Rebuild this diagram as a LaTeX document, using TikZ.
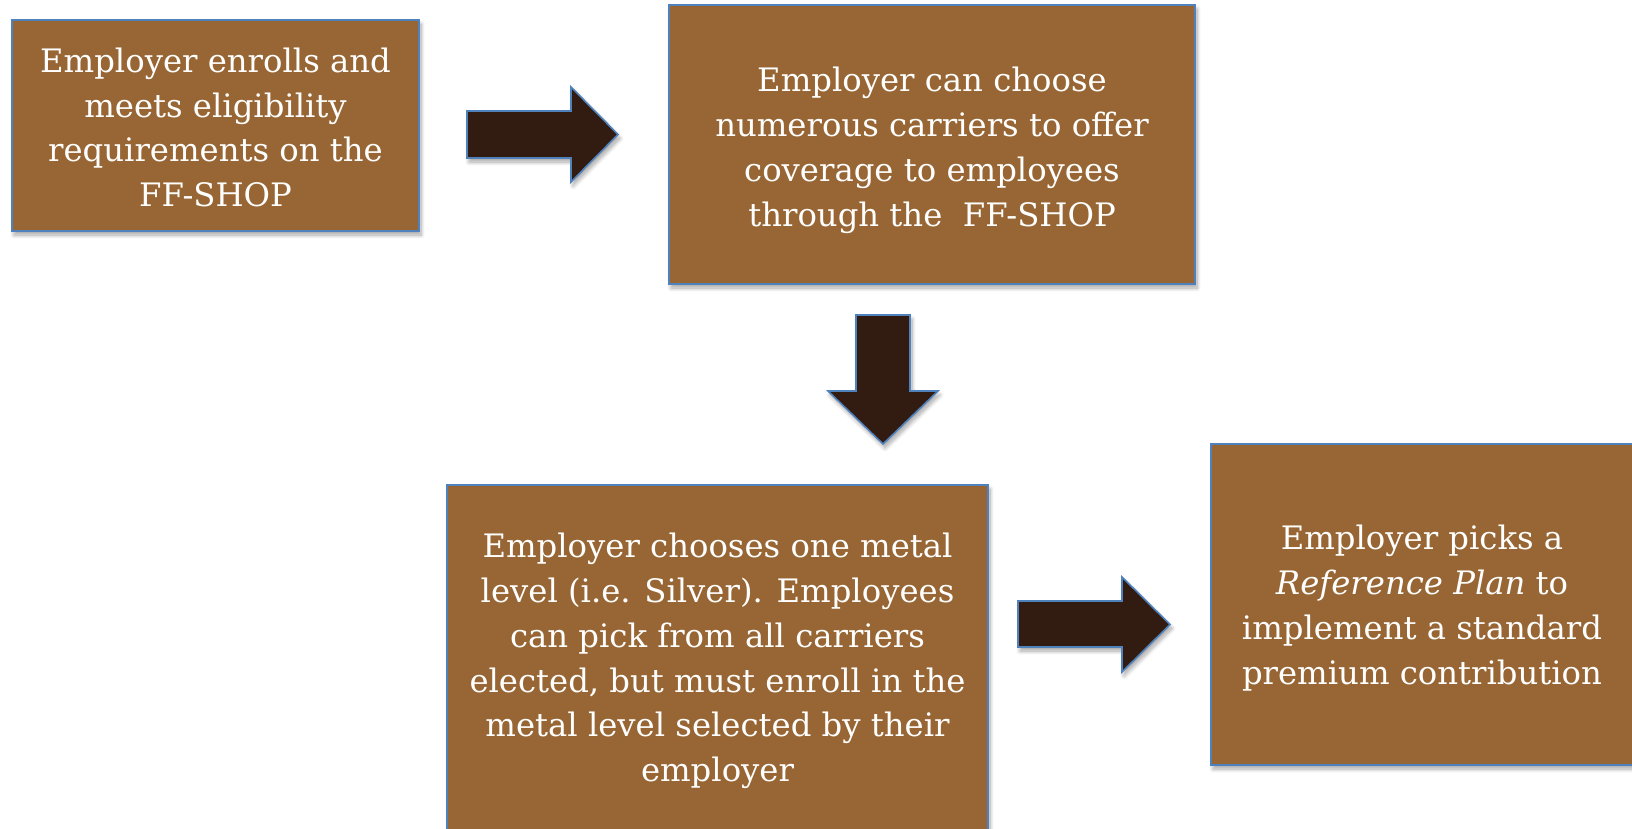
\documentclass[tikz,border=0pt]{standalone}
\usepackage{fontspec}
\setmainfont{DejaVu Serif}
\usetikzlibrary{shadows.blur}
\definecolor{boxbrown}{RGB}{152,102,52}
\definecolor{edgeblue}{RGB}{79,129,189}
\definecolor{arrowdark}{RGB}{50,28,18}
\tikzset{
  softshadow/.style={blur shadow={shadow xshift=2pt, shadow yshift=-4pt,
    shadow blur radius=4pt, shadow blur steps=8, shadow opacity=35}},
  stepbox/.style={draw=edgeblue, line width=1.6pt, fill=boxbrown, softshadow},
  boxtext/.style={text=white, align=center, font=\fontsize{32.3}{44.8}\selectfont},
  blockarrow/.style={draw=edgeblue, line width=1.6pt, fill=arrowdark, line join=miter, softshadow}
}
\begin{document}
\begin{tikzpicture}[x=1pt,y=-1pt]
\useasboundingbox (0,0) rectangle (1632,829);
\begin{scope}
\clip (0,0) rectangle (1632,829);
% boxes
\draw[stepbox] (12,20) rectangle (419,231);
\coordinate (b1) at (215.5,127.5);
\draw[stepbox] (669,5) rectangle (1195,284);
\coordinate (b2) at (932,150.5);
\draw[stepbox] (447,485) rectangle (988,834);
\coordinate (b3) at (717.5,661);
\draw[stepbox] (1211,444) rectangle (1640,765);
\coordinate (b4) at (1422,608);

\node[boxtext] (t1) at (b1) {Employer enrolls and\\meets eligibility\\requirements on the\\FF-SHOP};
\node[boxtext] (t2) at (b2) {Employer can choose\\numerous carriers to offer\\coverage to employees\\through the\ \ FF-SHOP};
\node[boxtext] (t3) at (b3) {Employer chooses one metal\\level (i.e. Silver). Employees\\can pick from all carriers\\elected, but must enroll in the\\metal level selected by their\\employer};
\node[boxtext] (t4) at (b4) {Employer picks a\\\textit{Reference Plan} to\\implement a standard\\premium contribution};

% block arrows
\draw[blockarrow] (467,111) -- (571,111) -- (571,87) -- (618,134.5) -- (571,182) -- (571,158) -- (467,158) -- cycle;
\draw[blockarrow] (856,315) -- (910,315) -- (910,391) -- (938,391) -- (883,444) -- (828,391) -- (856,391) -- cycle;
\draw[blockarrow] (1018,601) -- (1122,601) -- (1122,577) -- (1170,624.5) -- (1122,672) -- (1122,647) -- (1018,647) -- cycle;
\end{scope}
\end{tikzpicture}
\end{document}
